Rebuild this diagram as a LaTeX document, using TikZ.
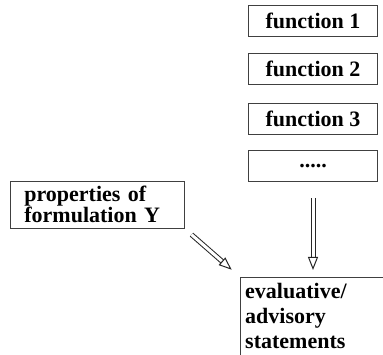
\documentclass[tikz,border=0pt]{standalone}
\usepackage{fontspec}
\setmainfont{Liberation Serif}
\usetikzlibrary{arrows.meta,positioning}

\begin{document}
\begin{tikzpicture}[x=1pt,y=-1pt,
        frame/.style={draw=black!75, line width=0.7pt},
        box/.style={frame, font=\fontsize{22}{21}\selectfont\bfseries},
        func/.style={box, minimum width=129pt, minimum height=31pt, inner sep=0pt},
        hollow/.style={draw=black!85, line width=1pt, double=white, double distance=3pt,
            -{Triangle[open, length=13pt, width=10pt]}}]
        \useasboundingbox (0,0) rectangle (383,355);
        \clip (0,0) rectangle (383,355);
        \node[func](F1) at (313,20.5) {function 1};
        \node[func](F2) at (313,69)   {function 2};
        \node[func](F3) at (313,118.5) {function 3};
        \node[func](DOTS) at (313,166) {.....};
        \node[box, anchor=north west, text width=146pt, inner xsep=14pt, inner ysep=3pt,
              minimum height=47pt, align=left](PROP) at (10,181) {properties of\\formulation Y};
        \node[anchor=north west, text width=150pt, inner xsep=5pt, inner ysep=6pt, align=left,
              font=\fontsize{22}{25}\selectfont\bfseries](EVAL) at (240,277)
              {evaluative/\\advisory\\statements};
        \draw[frame] (EVAL.north west) rectangle ++(170,100);
        \path
            (DOTS.south) edge [hollow, shorten <=16pt, shorten >=7pt] (DOTS.south |- EVAL.north)
            (PROP.south east) edge [hollow, shorten <=9pt, shorten >=11pt] (EVAL.north west)
            ;
    \end{tikzpicture}
\end{document}
